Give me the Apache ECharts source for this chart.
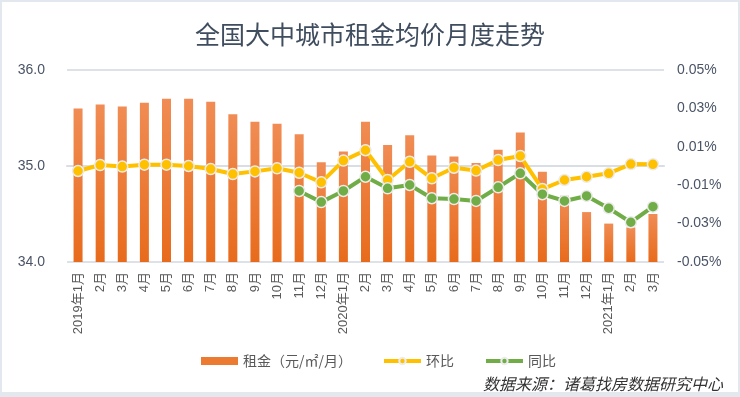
<!DOCTYPE html>
<html>
<head>
<meta charset="utf-8">
<script src="https://cdn.jsdelivr.net/npm/echarts@6/dist/echarts.min.js"></script>
<style>
  html, body { margin: 0; padding: 0; background: #e3e8ee; }
  #chart { position: absolute; left: 2px; top: 2px; width: 736px; height: 390px; background: #fff; }
</style>
</head>
<body>
<div id="chart"></div>
<script>
// 月份
const months = [
  "2019年1月", "2月", "3月", "4月", "5月", "6月", "7月", "8月", "9月", "10月", "11月", "12月",
  "2020年1月", "2月", "3月", "4月", "5月", "6月", "7月", "8月", "9月", "10月", "11月", "12月",
  "2021年1月", "2月", "3月"
];
// 租金（元/㎡/月）
const rent = [
  35.60, 35.64, 35.62, 35.66, 35.70, 35.70, 35.67, 35.54, 35.46, 35.44, 35.33, 35.04,
  35.15, 35.46, 35.22, 35.32, 35.11, 35.10, 35.03, 35.17, 35.35, 34.94, 34.69, 34.52,
  34.40, 34.36, 34.50
];
// 环比（%）
const mom = [
  -0.0026, 0.0005, -0.0003, 0.0007, 0.0007, 0.0000, -0.0016, -0.0042, -0.0028, -0.0012, -0.0035, -0.0085,
  0.0028, 0.0082, -0.0073, 0.0022, -0.0064, -0.0009, -0.0024, 0.0031, 0.0052, -0.0120, -0.0073, -0.0056,
  -0.0038, 0.0010, 0.0009
];
// 同比（%），2019年11月起
const yoy = [
  null, null, null, null, null, null, null, null, null, null, -0.0130, -0.0188,
  -0.0130, -0.0056, -0.0116, -0.0099, -0.0168, -0.0172, -0.0182, -0.0111, -0.0038, -0.0147, -0.0182, -0.0156,
  -0.0220, -0.0293, -0.0212
];
const rightTicks = [-0.05, -0.03, -0.01, 0.01, 0.03, 0.05];

const labelFont = '"Liberation Sans", "Noto Sans CJK SC", sans-serif';
const cjkFont = '"Noto Sans CJK SC", sans-serif';

const myChart = echarts.init(document.getElementById("chart"));
const option = {
  animation: false,
  title: [
    {
      text: "全国大中城市租金均价月度走势",
      left: "center",
      top: 15,
      textStyle: { fontFamily: cjkFont, fontSize: 25, fontWeight: "normal", color: "#3f4d5f" },
    },
    {
      text: "数据来源：诸葛找房数据研究中心",
      right: 10,
      top: 369,
      textStyle: { fontFamily: cjkFont, fontSize: 16, fontWeight: "normal", fontStyle: "italic", color: "#333" },
    },
  ],
  legend: {
    left: 194,
    top: 347,
    itemGap: 30,
    itemWidth: 37,
    itemHeight: 8,
    textStyle: { fontFamily: cjkFont, fontSize: 14, color: "#595959" },
    data: [
      { name: "租金（元/㎡/月）", icon: "rect", itemStyle: { color: "#ed7a31" } },
      { name: "环比", lineStyle: { width: 4 } },
      { name: "同比", lineStyle: { width: 4 } },
    ],
  },
  grid: { left: 65, right: 74, top: 68, bottom: 130 },
  xAxis: {
    type: "category",
    data: months,
    axisLine: { lineStyle: { color: "#d9dee5", width: 2 } },
    axisTick: { show: false },
    axisLabel: {
      interval: 0,
      rotate: 90,
      margin: 10,
      fontFamily: labelFont,
      fontSize: 13,
      color: "#595959",
    },
  },
  yAxis: [
    {
      type: "value",
      min: 34,
      max: 36,
      interval: 1,
      axisLine: { show: false },
      axisTick: { show: false },
      splitLine: { lineStyle: { color: "#dde2e8", width: 2 } },
      axisLabel: {
        margin: 22,
        fontFamily: labelFont,
        fontSize: 14,
        color: "#4a5466",
        formatter: (v) => v.toFixed(1),
      },
    },
    {
      type: "value",
      min: -0.05,
      max: 0.05,
      position: "right",
      axisLine: { show: false },
      axisTick: { show: false },
      splitLine: { show: false },
      axisLabel: {
        margin: 13,
        customValues: rightTicks,
        fontFamily: labelFont,
        fontSize: 14,
        color: "#4a5466",
        formatter: (v) => v.toFixed(2) + "%",
      },
    },
  ],
  series: [
    {
      name: "租金（元/㎡/月）",
      type: "bar",
      data: rent,
      barWidth: 9,
      itemStyle: {
        color: new echarts.graphic.LinearGradient(0, 0, 0, 1, [
          { offset: 0, color: "#f08c54" },
          { offset: 1, color: "#e86b1c" },
        ]),
      },
    },
    {
      name: "环比",
      type: "line",
      yAxisIndex: 1,
      data: mom,
      symbol: "circle",
      symbolSize: 11,
      lineStyle: { color: "#ffc000", width: 4 },
      itemStyle: { color: "#ffc000", borderColor: "#ececec", borderWidth: 1.5 },
    },
    {
      name: "同比",
      type: "line",
      yAxisIndex: 1,
      data: yoy,
      symbol: "circle",
      symbolSize: 11,
      lineStyle: { color: "#70ad47", width: 4 },
      itemStyle: { color: "#70ad47", borderColor: "#ececec", borderWidth: 1.5 },
    },
  ],
};
myChart.setOption(option);
</script>
</body>
</html>
